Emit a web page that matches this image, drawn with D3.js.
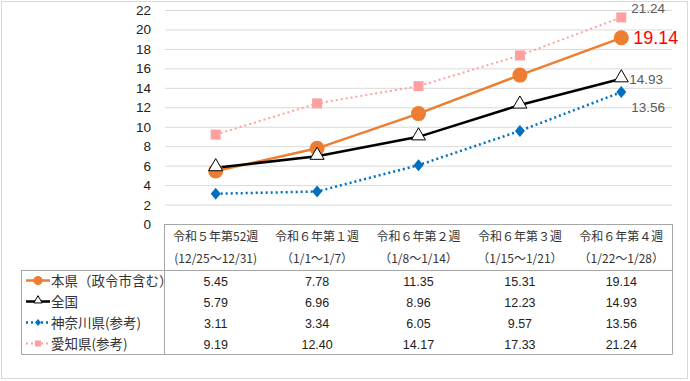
<!DOCTYPE html>
<html><head><meta charset="utf-8">
<script src="https://cdn.jsdelivr.net/npm/d3@7"></script>
<style>
body{margin:0;background:#fff;}
text{font-family:"Liberation Sans","Noto Sans CJK JP",sans-serif;}
.jp{font-family:"Noto Sans CJK JP",sans-serif;}
</style></head><body>
<svg id="c" width="690" height="381"></svg>
<script>
const weeks = ["令和５年第52週","令和６年第１週","令和６年第２週","令和６年第３週","令和６年第４週"];
const ranges = ["(12/25～12/31)","（1/1～1/7）","（1/8～1/14）","（1/15～1/21）","（1/22～1/28）"];
const seriesNames = ["本県（政令市含む）","全国","神奈川県(参考)","愛知県(参考)"];
const honken = [5.45,7.78,11.35,15.31,19.14];
const zenkoku = [5.79,6.96,8.96,12.23,14.93];
const kanagawa = [3.11,3.34,6.05,9.57,13.56];
const aichi = [9.19,12.40,14.17,17.33,21.24];
const yTicks = [0,2,4,6,8,10,12,14,16,18,20,22];

const svg = d3.select("#c");
const L=165,R=672,T=10,B=224;
const x = d3.scaleBand().domain(weeks).range([L,R]);
const y = d3.scaleLinear().domain([0,22]).range([B,T]);
const cx = d=>x(d)+x.bandwidth()/2;

svg.append("rect").attr("x",1.5).attr("y",1.5).attr("width",686).attr("height",377)
  .attr("fill","#fff").attr("stroke","#d9d9d9");

svg.append("g").selectAll("line").data(yTicks.filter(t=>t>0)).join("line")
  .attr("x1",L).attr("x2",R).attr("y1",d=>y(d)+0.5).attr("y2",d=>y(d)+0.5)
  .attr("stroke","#d9d9d9").attr("stroke-width",1);
svg.append("g").selectAll("text").data(yTicks).join("text")
  .attr("x",151).attr("y",d=>y(d)+5).attr("text-anchor","end")
  .attr("font-size",13.5).attr("fill","#222").text(d=>d);

const series = [
 {name:seriesNames[0],vals:honken,color:"#ED7D31",dash:null,w:2.5,marker:"circle"},
 {name:seriesNames[1],vals:zenkoku,color:"#000",dash:null,w:2.5,marker:"triangle"},
 {name:seriesNames[2],vals:kanagawa,color:"#0070C0",dash:"2,3",w:2.5,marker:"diamond"},
 {name:seriesNames[3],vals:aichi,color:"#FF9F9F",dash:"2,3",w:2,marker:"square"}
];
const line = d3.line().x((d,i)=>cx(weeks[i])).y(d=>y(d));
function marker(g,type,color,scale){
  if(type==="circle") g.append("circle").attr("r",7.5*scale).attr("fill",color);
  if(type==="triangle") g.append("path").attr("d",d3.symbol(d3.symbolTriangle,85*scale*scale)()).attr("transform","translate(0,-1)")
      .attr("fill","#fff").attr("stroke","#000").attr("stroke-width",1);
  if(type==="diamond") g.append("path").attr("d",`M0,${-6*scale}L${5*scale},0L0,${6*scale}L${-5*scale},0Z`).attr("fill",color);
  if(type==="square") g.append("rect").attr("x",-5*scale).attr("y",-5*scale).attr("width",10*scale).attr("height",10*scale).attr("fill",color);
}
const drawOrder=[3,2,0,1];
drawOrder.forEach(k=>{
  const s=series[k];
  svg.append("path").attr("d",line(s.vals)).attr("fill","none").attr("stroke",s.color)
    .attr("stroke-width",s.w).attr("stroke-dasharray",s.dash);
});
drawOrder.forEach(k=>{
  const s=series[k];
  s.vals.forEach((v,i)=>{
    const g=svg.append("g").attr("transform",`translate(${cx(weeks[i])},${y(v)})`);
    marker(g,s.marker,s.color,1);
  });
});
const last=4;
svg.append("text").attr("x",cx(weeks[last])+10).attr("y",y(aichi[last])-4).attr("font-size",13.5).attr("fill","#595959").text(aichi[last].toFixed(2));
svg.append("text").attr("x",cx(weeks[last])+12).attr("y",y(honken[last])+6).attr("font-size",18).attr("fill","#FF0000").text(honken[last].toFixed(2));
svg.append("text").attr("x",cx(weeks[last])+8).attr("y",y(zenkoku[last])+5).attr("font-size",13.5).attr("fill","#595959").text(zenkoku[last].toFixed(2));
svg.append("text").attr("x",cx(weeks[last])+10).attr("y",y(kanagawa[last])+20).attr("font-size",13.5).attr("fill","#595959").text(kanagawa[last].toFixed(2));

const tb = svg.append("g");
const hdrB=270, rowH=21, tabB=hdrB+rowH*4, legL=21.5;
function ln(x1,y1,x2,y2,c){tb.append("line").attr("x1",x1).attr("y1",y1).attr("x2",x2).attr("y2",y2).attr("stroke",c||"#a6a6a6").attr("stroke-width",1);}
ln(L-0.5,B+0.5,R+0.5,B+0.5);
ln(L-0.5,B,L-0.5,tabB);
ln(R+0.5,B,R+0.5,tabB);
ln(legL,hdrB+0.5,R+0.5,hdrB+0.5);
ln(legL,tabB+0.5,R+0.5,tabB+0.5);
ln(legL,hdrB,legL,tabB+0.5);
weeks.forEach((w,i)=>{
  tb.append("text").attr("class","jp").attr("x",cx(w)).attr("y",241).attr("text-anchor","middle").attr("font-size",12).attr("fill","#333").text(w);
  tb.append("text").attr("class","jp").attr("x",cx(w)).attr("y",263).attr("text-anchor","middle").attr("font-size",12).attr("fill","#333").text(ranges[i]);
});
series.forEach((s,k)=>{
  const yy=hdrB+rowH*k+rowH/2;
  tb.append("line").attr("x1",26).attr("x2",50).attr("y1",yy).attr("y2",yy).attr("stroke",s.color).attr("stroke-width",s.w).attr("stroke-dasharray",s.dash);
  const g=tb.append("g").attr("transform",`translate(38,${yy})`);
  marker(g,s.marker,s.color,0.6);
  tb.append("text").attr("class","jp").attr("x",51).attr("y",yy+5).attr("font-size",13.5).attr("fill","#333").text(s.name);
  s.vals.forEach((v,i)=>{
    tb.append("text").attr("x",cx(weeks[i])).attr("y",yy+5).attr("text-anchor","middle").attr("font-size",12.5).attr("fill","#222").text(v.toFixed(2));
  });
});
</script></body></html>
